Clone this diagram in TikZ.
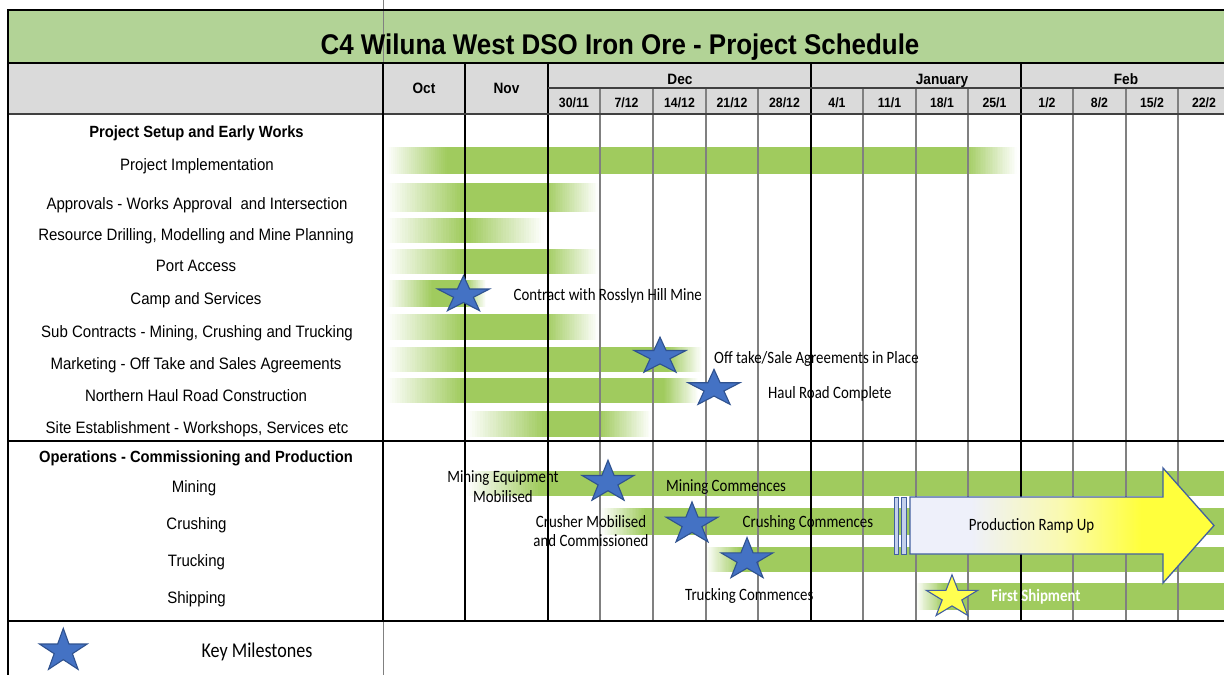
\documentclass[tikz,border=0pt]{standalone}
\usepackage{fontspec}
\setmainfont{Liberation Sans}[FakeStretch=0.91]
\newfontfamily\notefont{Carlito}[FakeStretch=0.86]
\usetikzlibrary{shapes.geometric}

\definecolor{titlegreen}{RGB}{178,211,150}
\definecolor{headgray}{RGB}{218,218,218}
\definecolor{bargreen}{RGB}{160,203,94}
\definecolor{starblue}{RGB}{68,114,196}
\definecolor{stardark}{RGB}{47,82,143}
\definecolor{gridgray}{RGB}{128,128,128}
\definecolor{arrowblue}{RGB}{66,96,160}
\definecolor{stripefill}{RGB}{196,208,236}
\definecolor{rampstart}{RGB}{238,240,250}
\definecolor{ramplight}{RGB}{250,250,175}
\definecolor{rampyellow}{RGB}{255,255,60}
\definecolor{shipyellow}{RGB}{255,255,80}

% pale-to-yellow fill of the production arrow (path spans 25bp..75bp)
\pgfdeclarehorizontalshading{rampshade}{100bp}{color(0bp)=(rampstart); color(25bp)=(rampstart); color(35bp)=(rampstart); color(50bp)=(ramplight); color(63bp)=(rampyellow); color(100bp)=(rampyellow)}

% soft bar end built from thin strips: x-from, x-to, y1, y2, green% at start, green% at end
\newcommand\fadepart[6]{%
  \foreach \k in {0,...,29}{%
    \pgfmathsetmacro\xa{#1+(#2-#1)*\k/30}%
    \pgfmathsetmacro\xb{#1+(#2-#1)*(\k+1)/30+0.4}%
    \pgfmathsetmacro\pc{#5+(#6-#5)*(\k+0.5)/30}%
    \fill[bargreen!\pc!white] (\xa,#3) rectangle (\xb,#4);
  }}

% gantt bar: fade in from x1 to xa, solid to xb, fade out to x2
\newcommand\ganttbar[6]{%
  \fadepart{#1}{#2}{#5}{#6}{0}{100}
  \fill[bargreen] (#2,#5) rectangle (#3,#6);
  \fadepart{#3}{#4}{#5}{#6}{100}{0}
}

% milestone star: name, x, y, horizontal stretch, size, style
\newcommand\milestone[6]{%
  \begin{scope}[shift={(#2,#3)},xscale=#4]
    \node[#6,minimum size=#5,transform shape] (#1) at (0,0) {};
  \end{scope}}

\tikzset{
  rowlabel/.style={anchor=base,inner sep=0pt,font=\fontsize{16.5}{18}\selectfont},
  sectlabel/.style={anchor=base,inner sep=0pt,font=\bfseries\fontsize{16.2}{18}\selectfont},
  monthlabel/.style={anchor=base,inner sep=0pt,font=\bfseries\fontsize{15}{17}\selectfont},
  weeklabel/.style={anchor=base,inner sep=0pt,font=\bfseries\fontsize{13.5}{15}\selectfont},
  note/.style={anchor=base west,inner sep=0pt,font=\notefont\fontsize{17.3}{19}\selectfont},
  notec/.style={anchor=base,inner sep=0pt,font=\notefont\fontsize{17.3}{19}\selectfont},
  weekline/.style={draw=gridgray,line width=1.3pt},
  monthline/.style={draw=black,line width=1.8pt},
  frameline/.style={draw=black,line width=2.5pt},
  mstar/.style={star,star points=5,star point ratio=2.62,inner sep=0pt,
    fill=starblue,draw=stardark,line width=1.1pt},
  ystar/.style={mstar,fill=shipyellow,draw=arrowblue},
}

\begin{document}
\begin{tikzpicture}[x=1pt,y=-1pt]
\useasboundingbox (0,0) rectangle (1224,675);
\clip (0,0) rectangle (1224,675);
\fill[white] (0,0) rectangle (1224,675);

% title band and header band
\fill[titlegreen] (8,10) rectangle (1230,63);
\fill[headgray] (8,63) rectangle (1230,114);

% ---- bars: project setup and early works
\ganttbar{387}{447}{966}{1017}{147}{174}
\ganttbar{387}{462}{546}{598}{183}{212}
\ganttbar{387}{464}{468}{544}{218}{243}
\ganttbar{387}{462}{546}{598}{249}{274}
\ganttbar{387}{432}{465}{486}{280}{307}
\ganttbar{387}{462}{546}{598}{314}{340}
\ganttbar{387}{462}{668}{702}{347}{372}
\ganttbar{387}{462}{664}{698}{378}{403}
\ganttbar{467}{545}{600}{651}{411}{437}
% ---- bars: operations
\ganttbar{467}{540}{1228}{1230}{471}{496}
\ganttbar{601}{645}{1228}{1230}{508}{535}
\ganttbar{706}{740}{1228}{1230}{547}{572}
\ganttbar{916}{944}{1228}{1230}{583}{610}

% ---- grid
\foreach \x in {600,653,706,758,863,916,968,1073,1126,1178}
  \draw[weekline] (\x,88) -- (\x,621);
\foreach \x in {465,548,811,1021}
  \draw[monthline] (\x,63) -- (\x,621);
\draw[draw=black!75,line width=1.2pt] (548,88) -- (1230,88);
\draw[draw=black!75,line width=1.2pt] (8,114) -- (1230,114);
\draw[monthline,line width=2pt] (383,63) -- (383,621);
\draw[draw=gridgray,line width=0.8pt] (383,0) -- (383,63);
\draw[draw=gridgray,line width=1pt] (383,621) -- (383,675);
\draw[frameline] (1230,10) -- (8,10) -- (8,675);
\draw[frameline] (8,63) -- (1230,63);
\draw[frameline] (8,441) -- (1230,441);
\draw[frameline] (8,621) -- (1230,621);

% ---- production ramp-up arrow with tail stripes
\filldraw[fill=stripefill,draw=arrowblue,line width=0.8pt] (894,497) rectangle (898,554);
\filldraw[fill=stripefill,draw=arrowblue,line width=0.8pt] (901,497) rectangle (906,554);
\shadedraw[shading=rampshade,draw=arrowblue,line width=1.3pt]
  (910,497) -- (1163,497) -- (1163,468) -- (1214,525.5) -- (1163,583)
  -- (1163,554) -- (910,554) -- cycle;

% ---- milestones
\milestone{sCamp}{463.5}{295}{1.41}{38.7pt}{mstar}
\milestone{sMarket}{660}{356.5}{1.41}{38.7pt}{mstar}
\milestone{sHaul}{714}{388.7}{1.41}{38.7pt}{mstar}
\milestone{sMining}{608}{482.3}{1.235}{44.2pt}{mstar}
\milestone{sCrush}{692}{524}{1.235}{44.2pt}{mstar}
\milestone{sTruck}{747}{559.7}{1.235}{44.2pt}{mstar}
\milestone{sShip}{952}{597.3}{1.2}{45pt}{ystar}
\milestone{sKey}{63.3}{651}{1.11}{45.3pt}{mstar}

% ---- title and header
\node[anchor=base,inner sep=0pt,font=\bfseries\fontsize{28.5}{30}\selectfont] (title) at (620,54)
  {C4 Wiluna West DSO Iron Ore - Project Schedule};
\node[monthlabel] (mOct) at (424,93) {Oct};
\node[monthlabel] (mNov) at (506.5,93) {Nov};
\node[monthlabel] (mDec) at (680,84) {Dec};
\node[monthlabel] (mJan) at (942,84) {January};
\node[monthlabel] (mFeb) at (1126,84) {Feb};
\foreach \x/\t [count=\i] in {574/30\slash11,626.5/7\slash12,679.5/14\slash12,732/21\slash12,
  784.5/28\slash12,837/4\slash1,889.5/11\slash1,942/18\slash1,994.5/25\slash1,
  1047/1\slash2,1099.5/8\slash2,1152/15\slash2,1204/22\slash2}
  \node[weeklabel] (wk\i) at (\x,107) {\t};

% ---- row labels
\node[sectlabel] (secA) at (196.5,137) {Project Setup and Early Works};
\node[rowlabel] (rImpl) at (197,170) {Project Implementation};
\node[rowlabel] (rAppr) at (197,209) {Approvals - Works Approval\ \ and Intersection};
\node[rowlabel] (rRes) at (196,240) {Resource Drilling, Modelling and Mine Planning};
\node[rowlabel] (rPort) at (196,271) {Port Access};
\node[rowlabel] (rCamp) at (196,304) {Camp and Services};
\node[rowlabel] (rSub) at (197,337) {Sub Contracts - Mining, Crushing and Trucking};
\node[rowlabel] (rMkt) at (196,369) {Marketing - Off Take and Sales Agreements};
\node[rowlabel] (rHaul) at (196,401) {Northern Haul Road Construction};
\node[rowlabel] (rSite) at (197,433) {Site Establishment - Workshops, Services etc};
\node[sectlabel] (secB) at (196,462) {Operations - Commissioning and Production};
\node[rowlabel] (rMine) at (194,492) {Mining};
\node[rowlabel] (rCrush) at (196.5,529) {Crushing};
\node[rowlabel] (rTruck) at (196.5,566) {Trucking};
\node[rowlabel] (rShip) at (196.5,603) {Shipping};

% ---- milestone notes
\node[note] (nCamp) at (513.5,300) {Contract with Rosslyn Hill Mine};
\node[note] (nMkt) at (714,363) {Off take/Sale Agreements in Place};
\node[note] (nHaul) at (768,398) {Haul Road Complete};
\node[notec] (nEquip1) at (503,482) {Mining Equipment};
\node[notec] (nEquip2) at (503,502) {Mobilised};
\node[note] (nMine) at (666,491) {Mining Commences};
\node[notec] (nCrush1) at (591,527) {Crusher Mobilised};
\node[notec] (nCrush2) at (591,546.5) {and Commissioned};
\node[note] (nCrush) at (742.5,527) {Crushing Commences};
\node[note] (nTruck) at (685,600) {Trucking Commences};
\node[notec] (nRamp) at (1031.5,530) {Production Ramp Up};
\node[notec,text=white,font=\notefont\bfseries\fontsize{17.3}{19}\selectfont] (nShip) at (1036,601.5) {First Shipment};
\node[notec,font=\notefont\fontsize{21}{23}\selectfont] (nKey) at (257,657.5) {Key Milestones};
\end{tikzpicture}
\end{document}
